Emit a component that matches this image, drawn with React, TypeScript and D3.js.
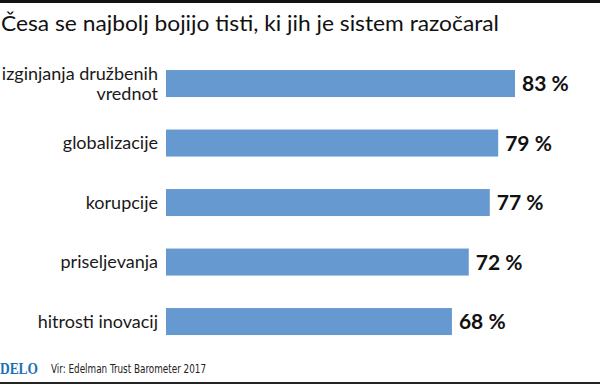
import { useEffect } from 'react';
import * as d3 from 'd3';

const WIDTH = 600;
const HEIGHT = 386;

const categories = ['izginjanja družbenih vrednot', 'globalizacije', 'korupcije', 'priseljevanja', 'hitrosti inovacij'];
const labelLines = [['izginjanja družbenih', 'vrednot'], ['globalizacije'], ['korupcije'], ['priseljevanja'], ['hitrosti inovacij']];
const values = [83, 79, 77, 72, 68];

const TITLE = 'Česa se najbolj bojijo tisti, ki jih je sistem razočaral';
const SOURCE = 'Vir: Edelman Trust Barometer 2017';

const BAR_COLOR = '#6699d0';
const FONT = 'Lato, "Open Sans", sans-serif';

export default function App() {
  useEffect(() => {
    document.body.style.margin = '0';
  }, []);

  const x = d3.scaleLinear().domain([0, 100]).range([166, 166 + 420.5]);
  const y = d3
    .scaleBand()
    .domain(categories)
    .range([53.8, 351.3])
    .paddingInner(0.546)
    .paddingOuter(0.273);

  return (
    <svg width={WIDTH} height={HEIGHT} style={{ display: 'block', background: '#fff' }}>
      <rect x={0} y={0} width={WIDTH} height={3} fill="#111" />
      <text x={1} y={31} fontFamily={FONT} fontSize={21.5} fill="#111" textLength={498} lengthAdjust="spacingAndGlyphs">
        {TITLE}
      </text>

      {categories.map((c, i) => {
        const yb = y(c) ?? 0;
        const cy = yb + y.bandwidth() / 2;
        const lines = labelLines[i];
        const lh = 20;
        const first = cy - ((lines.length - 1) * lh) / 2;
        return (
          <g key={c}>
            <rect x={x(0)} y={yb} width={x(values[i]) - x(0)} height={y.bandwidth()} fill={BAR_COLOR} />
            <text textAnchor="end" fontFamily={FONT} fontSize={18} fill="#1a1a1a">
              {lines.map((l, j) => (
                <tspan key={j} x={158} y={first + j * lh} dy="0.35em">
                  {l}
                </tspan>
              ))}
            </text>
            <text
              x={x(values[i]) + 7}
              y={cy}
              dy="0.36em"
              fontFamily={FONT}
              fontWeight={700}
              fontSize={21}
              fill="#111"
            >
              {values[i]} %
            </text>
          </g>
        );
      })}

      <text x={0} y={374} fontFamily='"Liberation Serif", serif' fontWeight={700} fontSize={17} fill="#1d6fb8" textLength={38} lengthAdjust="spacingAndGlyphs">
        DELO
      </text>
      <text x={51} y={373} fontFamily='"DejaVu Sans Condensed", "Liberation Sans Narrow", sans-serif' fontSize={13} fill="#222" textLength={155} lengthAdjust="spacingAndGlyphs">
        {SOURCE}
      </text>
      <rect x={0} y={382} width={WIDTH} height={2} fill="#222" />
    </svg>
  );
}
